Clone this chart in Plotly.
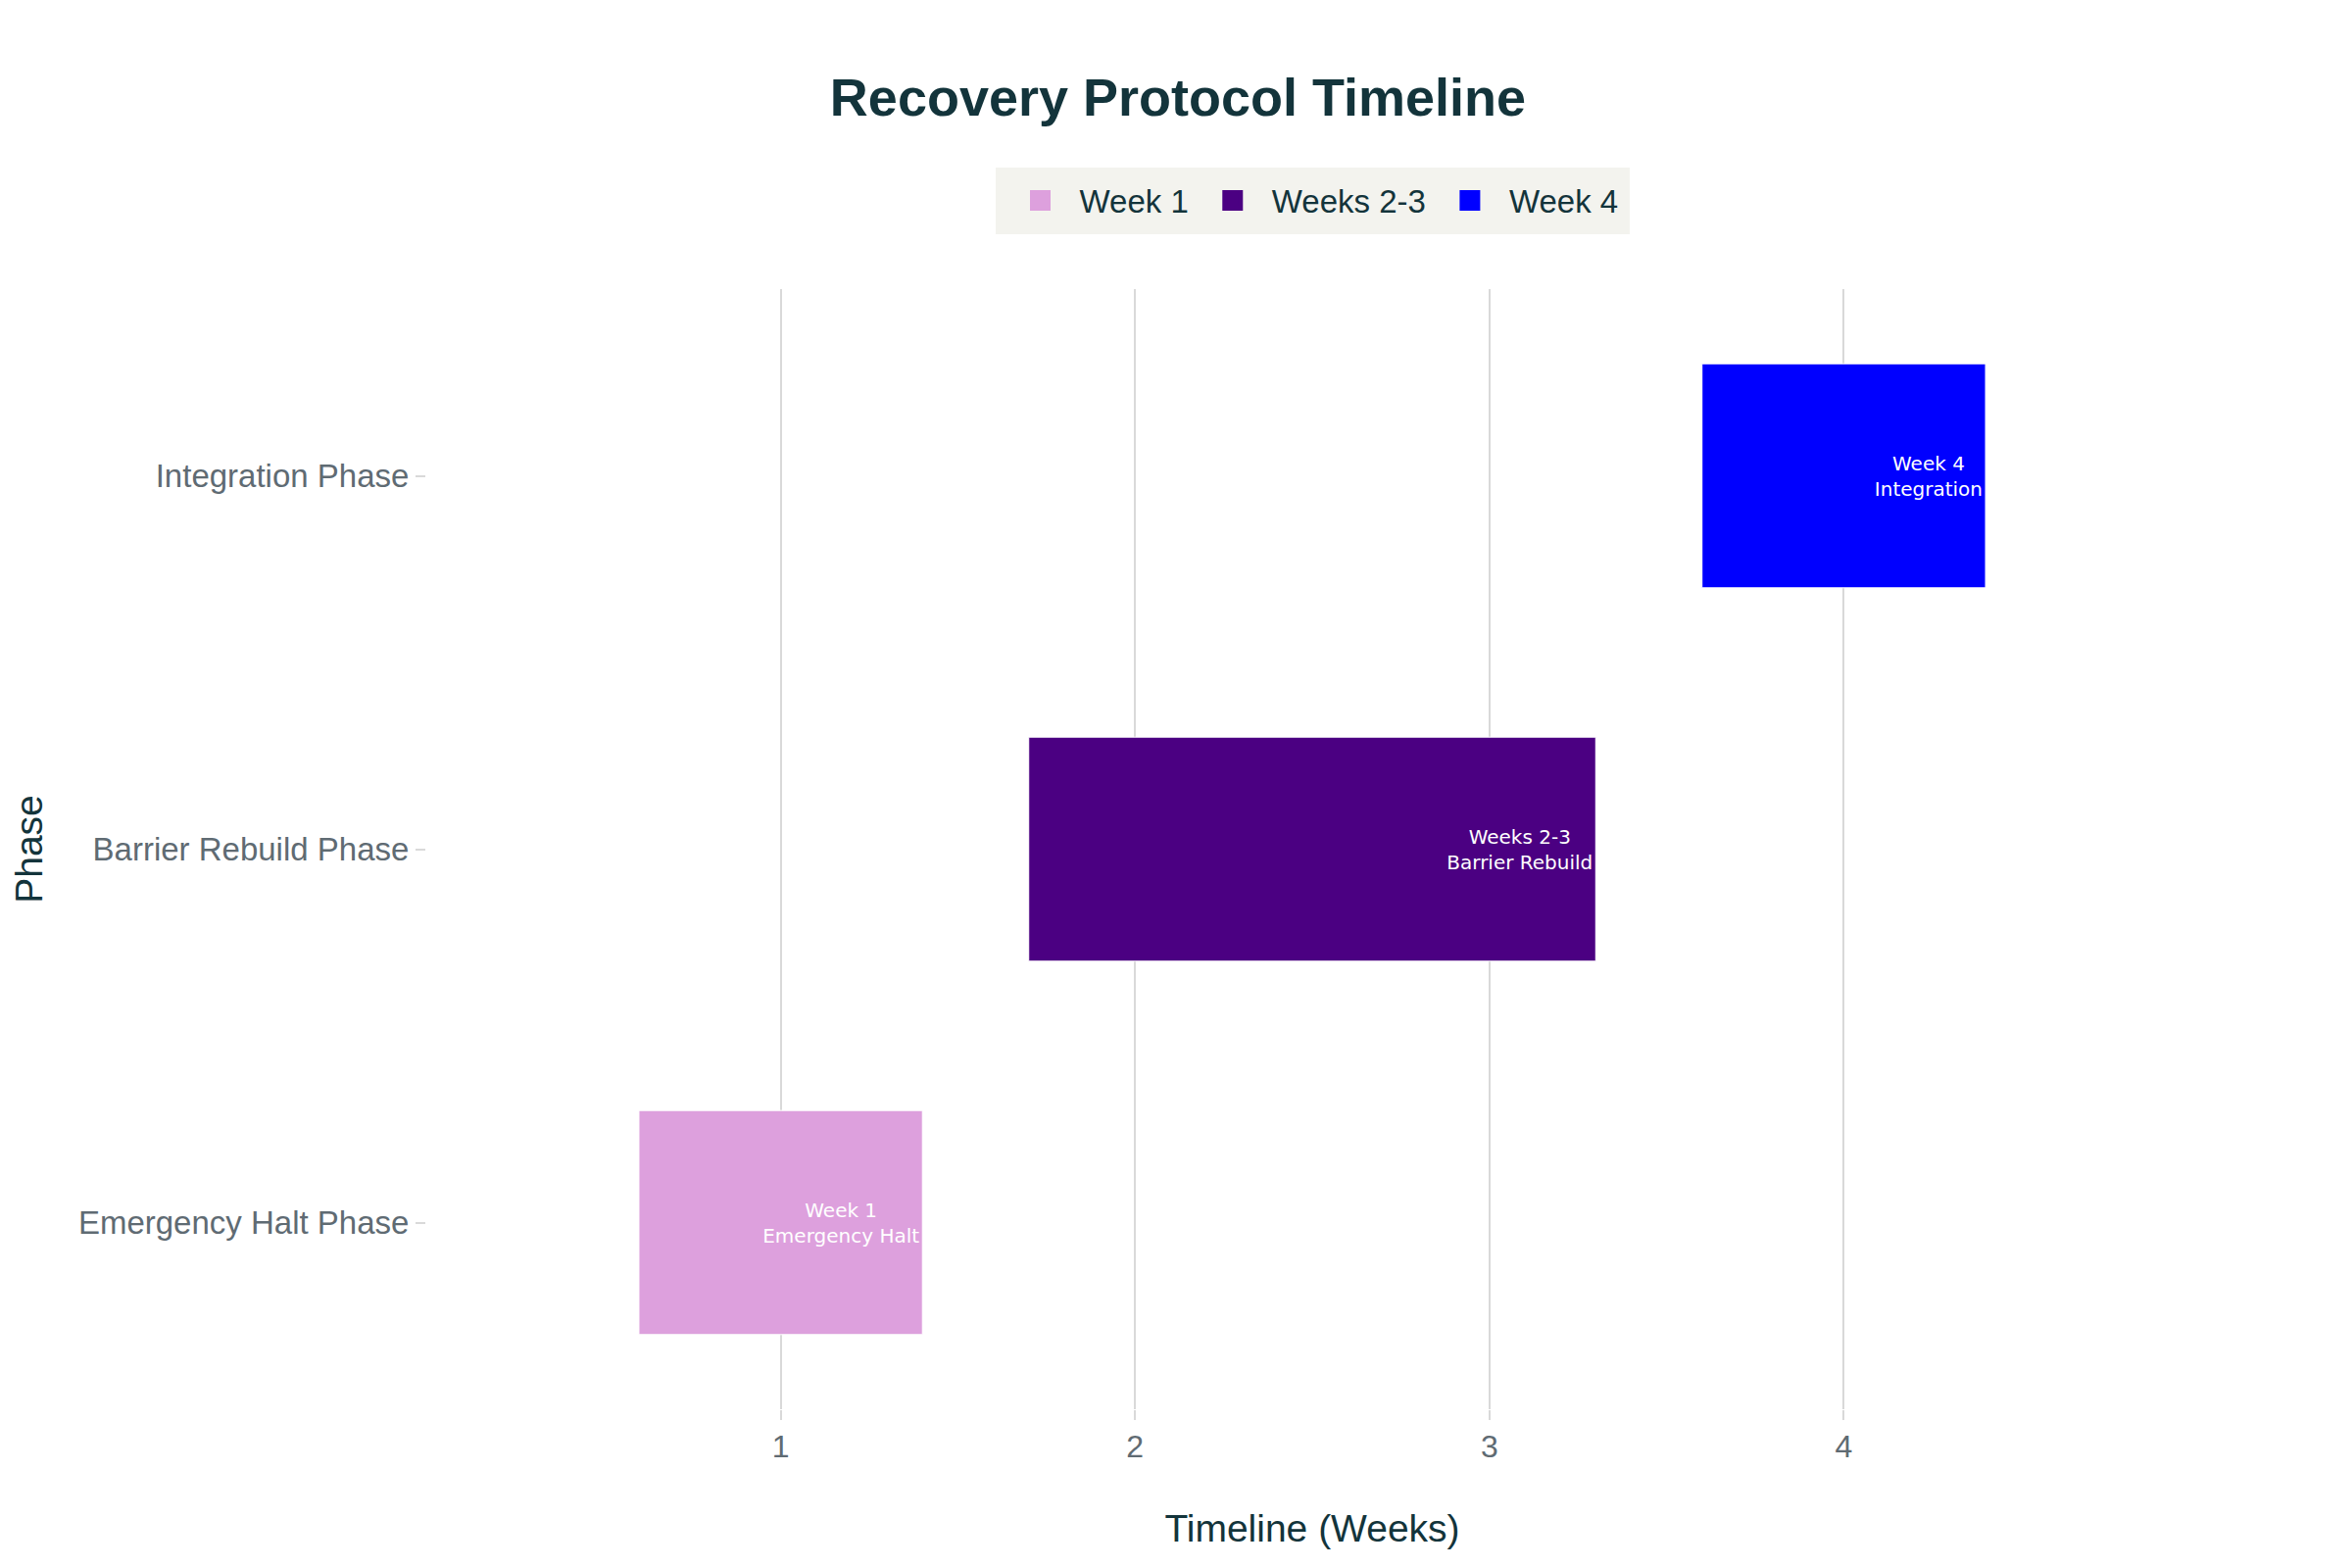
import plotly.graph_objects as go

phases = ["Emergency Halt Phase", "Barrier Rebuild Phase", "Integration Phase"]
legend_names = ["Week 1", "Weeks 2-3", "Week 4"]
start_week = [0.6, 1.7, 3.6]
duration = [0.8, 1.6, 0.8]
bar_labels = ["Week 1<br>Emergency Halt", "Weeks 2-3<br>Barrier Rebuild", "Week 4<br>Integration"]
colors = ["#DDA0DD", "#4B0082", "#0000FF"]
x_ticks = [1, 2, 3, 4]

fig = go.Figure()
for ph, nm, st, du, lb, c in zip(phases, legend_names, start_week, duration, bar_labels, colors):
    fig.add_trace(go.Bar(
        y=[ph], x=[du], base=[st], orientation="h", name=nm, legendgroup=nm,
        showlegend=False,
        text=[lb], textposition="inside", insidetextanchor="end", textangle=0,
        textfont=dict(family="DejaVu Sans", size=20, color="white"),
        marker=dict(color=c, line=dict(color="white", width=1)),
        width=0.6,
    ))
# legend entries (larger square swatches)
for nm, c in zip(legend_names, colors):
    fig.add_trace(go.Scatter(
        x=[None], y=[None], mode="markers", name=nm, legendgroup=nm,
        marker=dict(symbol="square", size=16, color=c, line=dict(color=c, width=5)),
        hoverinfo="skip",
    ))

font_main = "Liberation Sans"
fig.update_layout(
    width=2400, height=1600,
    barmode="overlay",
    paper_bgcolor="white", plot_bgcolor="white",
    font=dict(family=font_main, size=32, color="#13343B"),
    title=dict(text="<b>Recovery Protocol Timeline</b>", x=0.4975, xanchor="center",
               y=1 - 91 / 1600, yanchor="middle", yref="container",
               font=dict(family=font_main, size=54, color="#13343B")),
    legend=dict(orientation="h", x=0.5, xanchor="center", y=1.0494, yanchor="bottom",
                bgcolor="#F3F3EE", bordercolor="#F3F3EE", borderwidth=6,
                itemwidth=70,
                font=dict(size=33, color="#13343B"),
                traceorder="normal"),
    margin=dict(l=427, r=165, t=287, b=170, autoexpand=False),
    xaxis=dict(range=[0, 5], tickvals=x_ticks, showgrid=True, gridcolor="#D9D9D9", gridwidth=2,
               zeroline=False, showline=False, ticks="outside", ticklen=10, tickcolor="#D9D9D9",
               tickwidth=2, tickfont=dict(size=32, color="#5F6B73"),
               title=dict(text="Timeline (Weeks)", font=dict(size=39, color="#13343B"), standoff=52),
               automargin=False),
    yaxis=dict(categoryorder="array", categoryarray=phases, range=[-0.5, 2.5],
               showgrid=False, zeroline=False, showline=False, ticks="outside", ticklen=10,
               tickcolor="#D9D9D9", tickwidth=2, tickfont=dict(size=33, color="#5F6B73"),
               title=dict(text="Phase", font=dict(size=39, color="#13343B"), standoff=45),
               automargin=False),
)
fig.write_html("out.html")
